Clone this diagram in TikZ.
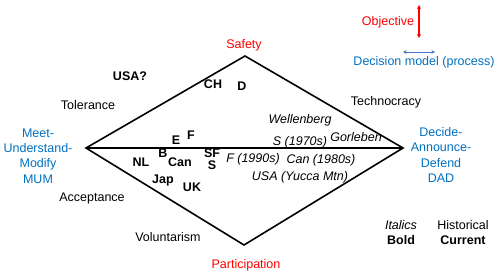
\documentclass[tikz,border=0pt]{standalone}
\usepackage{fontspec}
\setmainfont{Liberation Sans}
\usetikzlibrary{arrows.meta}
\definecolor{objred}{RGB}{255,0,0}
\definecolor{modblue}{RGB}{0,112,192}
\definecolor{arrblue}{RGB}{68,114,196}
\begin{document}
\begin{tikzpicture}[x=1pt,y=-1pt,
  lbl/.style={inner sep=0pt,font=\fontsize{12.5}{14}\selectfont},
  bld/.style={lbl,font=\fontsize{12.5}{14}\selectfont\bfseries},
  itl/.style={lbl,font=\fontsize{12.5}{14}\selectfont\itshape},
  redlbl/.style={lbl,text=objred},
  bluelbl/.style={inner sep=0pt,text=modblue,align=center,font=\fontsize{12.5}{15.3}\selectfont},
  edge/.style={line width=1.6pt,line join=miter}]
\useasboundingbox (0,0) rectangle (500,276);
% diamond
\coordinate (L) at (86,148);
\coordinate (R) at (403,148);
\coordinate (T) at (245,56);
\coordinate (B) at (244,245);
\draw[edge] (L) -- (T) -- (R) -- (B) -- cycle;
\draw[edge] (L) -- (R);
% corner labels
\node[redlbl] (safety) at (244,45) {Safety};
\node[redlbl] (part) at (246,265) {Participation};
\node[bluelbl] (mum) at (38,156) {Meet-\\Understand-\\Modify\\MUM};
\node[bluelbl] (dad) at (441,155) {Decide-\\Announce-\\Defend\\DAD};
% legend
\node[redlbl] (obj) at (388,22) {Objective};
\coordinate (oa) at (419,5);
\coordinate (ob) at (419,38);
\draw[objred,line width=1.4pt,{Stealth[length=4pt,width=4pt]}-{Stealth[length=4pt,width=4pt]}] (oa) -- (ob);
\coordinate (da) at (403,52);
\coordinate (db) at (435,52);
\draw[arrblue,line width=1pt,{Stealth[length=3.5pt,width=3.5pt]}-{Stealth[length=3.5pt,width=3.5pt]}] (da) -- (db);
\node[lbl,text=modblue] (dm) at (424,62) {Decision model (process)};
% outer words
\node[lbl] (tol) at (88,105) {Tolerance};
\node[lbl] (tech) at (386,102) {Technocracy};
\node[lbl] (acc) at (92,198) {Acceptance};
\node[lbl] (vol) at (168,237) {Voluntarism};
% bold (current)
\node[bld] (usaq) at (130,76) {USA?};
\node[bld] (ch) at (213,84) {CH};
\node[bld] (d) at (242,86) {D};
\node[bld] (e) at (176,140) {E};
\node[bld] (f) at (191,135) {F};
\node[bld] (b) at (163,153) {B};
\node[bld] (can) at (180,162) {Can};
\node[bld] (sf) at (212,153) {SF};
\node[bld] (s) at (212,165) {S};
\node[bld] (nl) at (141,162) {NL};
\node[bld] (jap) at (163,180) {Jap};
\node[bld] (uk) at (192,187) {UK};
% italic (historical)
\node[itl] (well) at (300,120) {Wellenberg};
\node[itl] (s70) at (300,142) {S (1970s)};
\node[itl] (gor) at (356,137) {Gorleben};
\node[itl] (f90) at (253,159) {F (1990s)};
\node[itl] (c80) at (321,160) {Can (1980s)};
\node[itl] (yucca) at (300,177) {USA (Yucca Mtn)};
% key
\node[itl] (kital) at (401,225) {Italics};
\node[lbl] (khist) at (463,225) {Historical};
\node[bld] (kbold) at (401,240) {Bold};
\node[bld] (kcur) at (463,240) {Current};
\end{tikzpicture}
\end{document}
